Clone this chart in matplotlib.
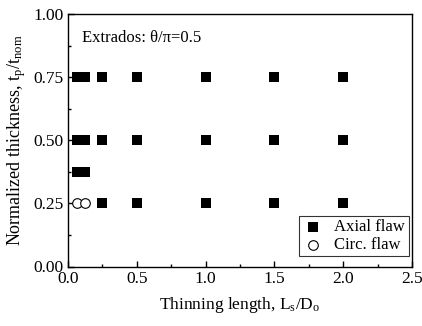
import matplotlib.pyplot as plt
from matplotlib.ticker import MultipleLocator

# Data
axial_x = [0.0625, 0.125, 0.25, 0.5, 1.0, 1.5, 2.0,
           0.0625, 0.125, 0.25, 0.5, 1.0, 1.5, 2.0,
           0.0625, 0.125,
           0.25, 0.5, 1.0, 1.5, 2.0]
axial_y = [0.75] * 7 + [0.50] * 7 + [0.375] * 2 + [0.25] * 5
circ_x = [0.0625, 0.125]
circ_y = [0.25, 0.25]


def main():
    plt.rcParams["font.family"] = ["Liberation Serif", "DejaVu Serif"]
    plt.rcParams["mathtext.fontset"] = "custom"
    plt.rcParams["mathtext.rm"] = "Liberation Serif"
    plt.rcParams["mathtext.it"] = "Liberation Serif"

    fig = plt.figure(figsize=(4.22, 3.26), dpi=100)
    ax = fig.add_axes([68 / 422, 1 - 266.5 / 326, 344 / 422, 252.5 / 326])

    ax.scatter(axial_x, axial_y, marker="s", s=42, c="black",
               linewidths=0, label="Axial flaw", zorder=3)
    ax.scatter(circ_x, circ_y, marker="o", s=48, facecolors="white",
               edgecolors="black", linewidths=0.8, label="Circ. flaw",
               zorder=3)

    ax.set_xlim(0, 2.5)
    ax.set_ylim(0, 1.0)
    ax.xaxis.set_major_locator(MultipleLocator(0.5))
    ax.xaxis.set_minor_locator(MultipleLocator(0.25))
    ax.yaxis.set_major_locator(MultipleLocator(0.25))
    ax.yaxis.set_minor_locator(MultipleLocator(0.125))
    ax.xaxis.set_major_formatter(plt.FormatStrFormatter("%.1f"))
    ax.yaxis.set_major_formatter(plt.FormatStrFormatter("%.2f"))
    ax.tick_params(which="both", direction="in", labelsize=12.5,
                   width=1.0)
    ax.tick_params(which="major", length=4, pad=3)
    ax.tick_params(which="minor", length=2.5)
    for s in ax.spines.values():
        s.set_linewidth(1.0)

    ax.set_xlabel(r"Thinning length, L$_\mathrm{s}$/D$_\mathrm{o}$",
                  fontsize=12.5, labelpad=6)
    ax.set_ylabel(r"Normalized thickness, t$_\mathrm{p}$/t$_\mathrm{nom}$",
                  fontsize=13, labelpad=4)
    ax.text(0.04, 0.935, "Extrados: θ/π=0.5", transform=ax.transAxes,
            fontsize=12, va="top", ha="left")

    leg = ax.legend(loc="lower right", fontsize=12, frameon=True,
                    fancybox=False, edgecolor="black", handletextpad=0.7,
                    borderpad=0.2, labelspacing=0.1, handlelength=1.2,
                    borderaxespad=0, bbox_to_anchor=(0.99, 0.04))
    leg.get_frame().set_linewidth(0.8)

    fig.savefig("out.png", dpi=100)


if __name__ == "__main__":
    main()
